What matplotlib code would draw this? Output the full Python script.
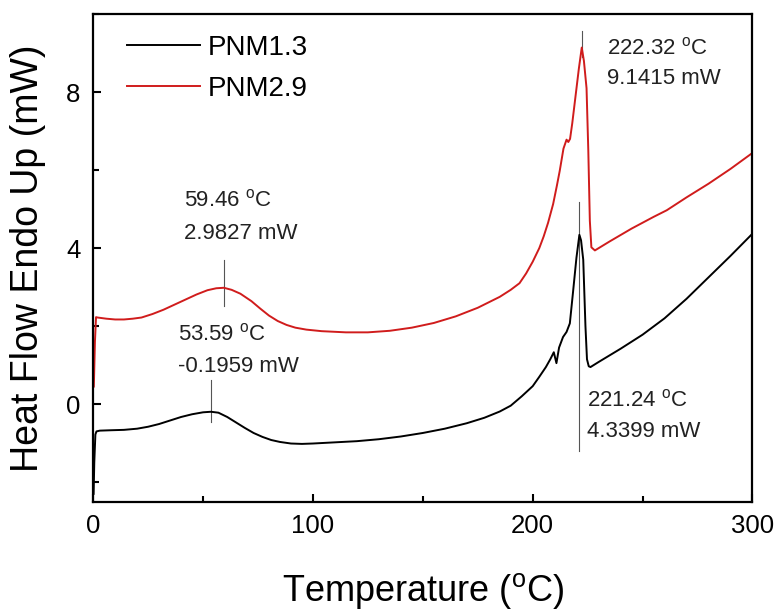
import matplotlib
matplotlib.use("Agg")
import matplotlib.pyplot as plt
from matplotlib.ticker import MultipleLocator

plt.rcParams["font.family"] = ["Liberation Sans", "DejaVu Sans"]
plt.rcParams["mathtext.fontset"] = "custom"
plt.rcParams["mathtext.rm"] = "Liberation Sans"
plt.rcParams["mathtext.it"] = "Liberation Sans:italic"

# DSC heating scans (temperature in degC, heat flow in mW)
temp_pnm13 = [0.2, 0.5, 1.0, 1.5, 3, 8, 14, 20, 25, 30, 35, 40, 45, 50, 53.59,
              57, 61, 65, 69, 73, 77, 81, 85, 90, 95, 100, 110, 120, 130, 140,
              150, 160, 170, 178, 185, 190, 195, 200, 203, 206, 208, 209.6,
              210.8, 212, 213.8, 215.4, 216.9, 218.4, 219.9, 221.24, 222, 223,
              224, 224.7, 225.5, 226.3, 230, 240, 250, 260, 270, 280, 290, 300]
flow_pnm13 = [-2.3, -1.5, -0.78, -0.70, -0.68, -0.67, -0.66, -0.63, -0.58,
              -0.51, -0.42, -0.33, -0.26, -0.21, -0.1959, -0.22, -0.33, -0.47,
              -0.61, -0.74, -0.84, -0.92, -0.97, -1.01, -1.02, -1.01, -0.98,
              -0.95, -0.90, -0.83, -0.74, -0.63, -0.49, -0.35, -0.19, -0.04,
              0.20, 0.46, 0.70, 0.95, 1.15, 1.33, 1.05, 1.45, 1.72, 1.85, 2.07,
              2.90, 3.75, 4.3399, 4.20, 3.70, 2.00, 1.15, 0.97, 0.95, 1.08,
              1.42, 1.78, 2.20, 2.70, 3.25, 3.80, 4.37]

temp_pnm29 = [0.3, 0.8, 1.3, 2, 6, 10, 14, 18, 22, 27, 32, 37, 42, 47, 52, 56,
              59.46, 63, 67, 72, 76, 80, 84, 88, 92, 97, 104, 115, 125, 135,
              145, 155, 165, 175, 185, 190, 194, 197, 200, 203, 205, 207,
              209.3, 211, 212.3, 214, 215.4, 216.2, 217, 218, 219.5, 221,
              222.32, 223.3, 224.5, 225.3, 226, 226.7, 228.3, 235, 245, 255,
              261, 270, 280, 290, 300]
flow_pnm29 = [0.45, 1.6, 2.23, 2.22, 2.19, 2.17, 2.17, 2.19, 2.22, 2.31, 2.42,
              2.55, 2.68, 2.81, 2.92, 2.97, 2.9827, 2.93, 2.83, 2.64, 2.45,
              2.27, 2.13, 2.03, 1.96, 1.91, 1.87, 1.84, 1.84, 1.88, 1.96, 2.08,
              2.25, 2.47, 2.75, 2.93, 3.10, 3.35, 3.65, 4.00, 4.30, 4.65, 5.13,
              5.60, 5.98, 6.55, 6.78, 6.72, 6.80, 7.20, 7.90, 8.60, 9.1415,
              8.80, 8.10, 6.50, 4.70, 4.02, 3.94, 4.17, 4.50, 4.80, 4.97, 5.30,
              5.65, 6.03, 6.44]

series_labels = ["PNM1.3", "PNM2.9"]
series_colors = ["#000000", "#d01c1c"]

# Peak markers: (temperature, heat flow)
peaks = [(59.46, 2.9827), (53.59, -0.1959), (222.32, 9.1415), (221.24, 4.3399)]

fig = plt.figure(figsize=(7.83, 6.11), dpi=100)
ax = fig.add_axes([0.119, 0.179, 0.842, 0.798])

ax.plot(temp_pnm13, flow_pnm13, color=series_colors[0], lw=1.4,
        label=series_labels[0])
ax.plot(temp_pnm29, flow_pnm29, color=series_colors[1], lw=1.4,
        label=series_labels[1])

ax.set_xlim(0, 300)
ax.set_ylim(-2.5, 10)
ax.xaxis.set_major_locator(MultipleLocator(100))
ax.xaxis.set_minor_locator(MultipleLocator(50))
ax.yaxis.set_major_locator(MultipleLocator(4))
ax.yaxis.set_minor_locator(MultipleLocator(2))
ax.tick_params(which="both", direction="in", width=1.5, labelsize=18.5, pad=9,
               top=False, right=False)
ax.tick_params(which="major", length=6)
ax.tick_params(which="minor", length=4)
for sp in ax.spines.values():
    sp.set_linewidth(1.6)

ax.set_xlabel(r"Temperature ($^{\rm o}$C)", fontsize=26)
ax.set_ylabel("Heat Flow Endo Up (mW)", fontsize=27)
ax.xaxis.set_label_coords(0.5, -0.142)
ax.yaxis.set_label_coords(-0.072, 0.5)

ax.legend(loc="upper left", bbox_to_anchor=(0.052, 0.958), frameon=False,
          fontsize=20, handlelength=2.6, handletextpad=0.29, labelspacing=0.54,
          borderpad=0, borderaxespad=0)

# Peak annotations: vertical marker segment plus two-line label.
# (line top, line bottom, text dx, baseline1 dy, baseline2 dy) in pixels
ann_layout = [
    (28, -18, -40, 81, 49),
    (32, -10, -33, 71, 40),
    (17, -9, 25, -7, -36),
    (33, -216, 8, -172, -202),
]
line_color = "#555555"
text_color = "#222222"
inv = ax.transData.inverted()
for (px, py), (top, bot, dx, b1, b2) in zip(peaks, ann_layout):
    x0, y0 = ax.transData.transform((px, py))
    _, ytop = inv.transform((x0, y0 + top))
    _, ybot = inv.transform((x0, y0 + bot))
    ax.plot([px, px], [ybot, ytop], color=line_color, lw=0.8, zorder=1)
    ax.annotate(f"{px:.2f} $^{{\\rm o}}$C", xy=(px, py),
                xytext=(dx, b1), textcoords="offset pixels",
                fontsize=16, color=text_color, ha="left", va="baseline")
    ax.annotate(f"{py:.4f} mW", xy=(px, py),
                xytext=(dx, b2), textcoords="offset pixels",
                fontsize=16, color=text_color, ha="left", va="baseline")

fig.savefig("out.png", dpi=100)
